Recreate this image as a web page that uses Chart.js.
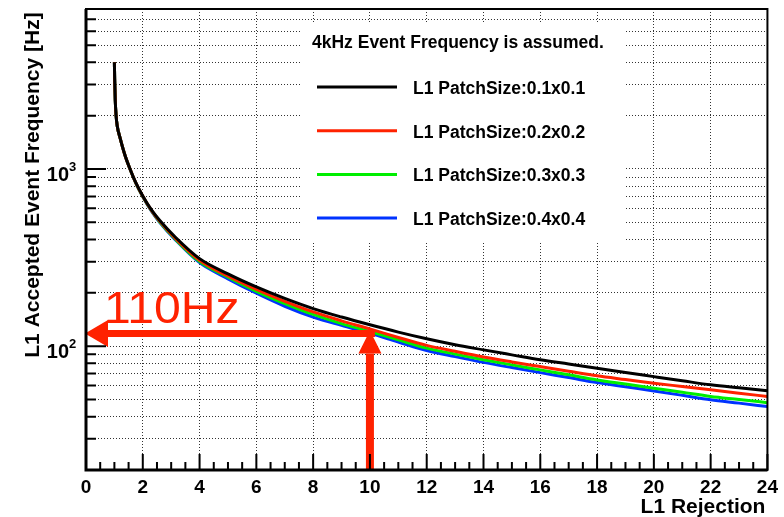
<!DOCTYPE html>
<html>
<head>
<meta charset="utf-8">
<script src="https://cdn.jsdelivr.net/npm/chart.js@4.4.0/dist/chart.umd.min.js"></script>
<style>
  body { margin: 0; background: #fff; }
  #wrap { width: 784px; height: 517px; }
</style>
</head>
<body>
<div id="wrap"><canvas id="rate"></canvas></div>
<script>
// L1 rejection vs accepted event frequency
var rejection = [1, 1.01, 1.03, 1.06, 1.1, 1.2, 1.37, 1.55, 1.75, 2, 2.3, 2.6, 3.15, 4, 5, 6, 7, 8, 9, 10, 11, 12, 13, 14, 15, 16, 17, 18, 19, 20, 21, 22, 23, 24];
var patch01 = [4000, 3200, 2450, 2000, 1750, 1500, 1200, 1000, 840, 705, 590, 512, 412, 312, 256, 216, 186, 163, 146, 132, 120, 110, 101.8, 95.3, 89.3, 83.7, 79.3, 75.1, 71, 67.3, 63.8, 60.5, 58.2, 56.1];
var patch02 = [4000, 3200, 2450, 2000, 1750, 1500, 1200, 1000, 838, 702, 586, 506, 405, 305, 249, 209, 179, 156, 139, 125, 112, 101, 93.5, 86.9, 81.5, 76.7, 72.2, 68, 64.8, 61.8, 59.2, 56.7, 54.3, 52];
var patch03 = [4000, 3200, 2450, 2000, 1750, 1500, 1200, 1000, 836, 700, 583, 502, 401, 300, 245, 204, 174, 151, 134, 121, 108.5, 97.5, 90.2, 83.9, 78.4, 73.5, 68.9, 64.5, 61.1, 57.9, 54.9, 52, 50, 48];
var patch04 = [4000, 3200, 2450, 2000, 1750, 1500, 1200, 1000, 835, 698, 580, 499, 398, 296, 240, 199, 168, 146, 131, 118, 105.5, 94.5, 87.3, 81, 75.7, 70.9, 66.5, 62.3, 59, 55.9, 52.8, 49.8, 47.7, 45.6];

var seriesNames = ["L1 PatchSize:0.1x0.1", "L1 PatchSize:0.2x0.2", "L1 PatchSize:0.3x0.3", "L1 PatchSize:0.4x0.4"];
var seriesColors = ["#000000", "#ff2200", "#00ee00", "#0033ff"];
var legendHeader = "4kHz Event Frequency is assumed.";

var yTicks = [20, 30, 40, 50, 60, 70, 80, 90, 100, 200, 300, 400, 500, 600, 700, 800, 900, 1000, 2000, 3000, 4000, 5000, 6000, 7000, 8000];
var yLabels = [100, 1000];

// the 110Hz mark
var markRejection = 10;
var markRate = 118;
var markText = "110Hz";

var FONT = "'Liberation Sans', Arial, Helvetica, sans-serif";

function pts(vals) {
    return vals.map(function (v, i) { return { x: rejection[i], y: v }; });
}

function drawArrow(ctx, x1, y1, x2, y2, w, hl, hw) {
    var ang = Math.atan2(y2 - y1, x2 - x1);
    var bx = x2 - Math.cos(ang) * hl, by = y2 - Math.sin(ang) * hl;
    ctx.lineWidth = w;
    ctx.beginPath();
    ctx.moveTo(x1, y1);
    ctx.lineTo(bx, by);
    ctx.stroke();
    ctx.beginPath();
    ctx.moveTo(x2, y2);
    ctx.lineTo(bx - Math.sin(ang) * hw / 2, by + Math.cos(ang) * hw / 2);
    ctx.lineTo(bx + Math.sin(ang) * hw / 2, by - Math.cos(ang) * hw / 2);
    ctx.closePath();
    ctx.fill();
}

var rootLook = {
    id: "rootLook",
    beforeDatasetsDraw: function (chart) {
        var ctx = chart.ctx;
        // legend pad covers the grid
        ctx.save();
        ctx.fillStyle = "#fff";
        ctx.fillRect(300, 24, 325, 217);
        ctx.restore();
    },
    afterDatasetsDraw: function (chart) {
        var ctx = chart.ctx, a = chart.chartArea;
        var xs = chart.scales.x, ys = chart.scales.y;
        ctx.save();

        // arrows
        var px = xs.getPixelForValue(markRejection);
        var py = ys.getPixelForValue(markRate);
        var p0 = xs.getPixelForValue(0);
        ctx.strokeStyle = "#ff2200";
        ctx.fillStyle = "#ff2200";
        drawArrow(ctx, px + 5, py, p0 - 1, py, 7, 23, 27);
        drawArrow(ctx, px, a.bottom, px, py - 3, 8, 23, 23);
        ctx.save();
        ctx.font = "45px " + FONT;
        ctx.textAlign = "left";
        ctx.textBaseline = "alphabetic";
        ctx.translate(p0 + 18, py - 10);
        ctx.scale(1.07, 1);
        ctx.fillText(markText, 0, 0);
        ctx.restore();

        // frame
        ctx.strokeStyle = "#000";
        ctx.lineWidth = 2;
        ctx.strokeRect(a.left, a.top, a.right - a.left, a.bottom - a.top);
        ctx.lineWidth = 3;
        ctx.beginPath();
        ctx.moveTo(a.left, a.top);
        ctx.lineTo(a.left, a.bottom);
        ctx.lineTo(a.right, a.bottom);
        ctx.stroke();

        // inner ticks
        ctx.lineWidth = 2;
        ctx.beginPath();
        for (var t = 0; t <= 24; t += 0.5) {
            var tx = xs.getPixelForValue(t);
            var len = (t % 2 === 0) ? 16 : 8;
            ctx.moveTo(tx, a.bottom);
            ctx.lineTo(tx, a.bottom - len);
        }
        yTicks.forEach(function (v) {
            var ty = ys.getPixelForValue(v);
            var len = yLabels.indexOf(v) >= 0 ? 20 : 10;
            ctx.moveTo(a.left, ty);
            ctx.lineTo(a.left + len, ty);
        });
        ctx.stroke();

        // y labels 10^n
        ctx.fillStyle = "#000";
        yLabels.forEach(function (v) {
            var ty = ys.getPixelForValue(v);
            ctx.font = "bold 20px " + FONT;
            ctx.textAlign = "right";
            ctx.textBaseline = "alphabetic";
            ctx.fillText("10", a.left - 17, ty + 12);
            ctx.font = "bold 13px " + FONT;
            ctx.textAlign = "left";
            ctx.fillText(String(Math.round(Math.log10(v))), a.left - 17, ty + 2);
        });

        // axis titles
        ctx.font = "bold 21px " + FONT;
        ctx.textAlign = "right";
        ctx.fillText("L1 Rejection", a.right - 2, 513);
        ctx.save();
        ctx.translate(33, 185);
        ctx.rotate(-Math.PI / 2);
        ctx.textAlign = "center";
        ctx.textBaseline = "middle";
        ctx.fillText("L1 Accepted Event Frequency [Hz]", 0, 0);
        ctx.restore();

        // legend
        ctx.font = "bold 17.5px " + FONT;
        ctx.textAlign = "left";
        ctx.textBaseline = "middle";
        ctx.fillText(legendHeader, 312, 43);
        chart.data.datasets.forEach(function (ds, i) {
            var ly = 87 + i * 43.7;
            ctx.strokeStyle = ds.borderColor;
            ctx.lineWidth = 3;
            ctx.beginPath();
            ctx.moveTo(317, ly);
            ctx.lineTo(397, ly);
            ctx.stroke();
            ctx.fillStyle = "#000";
            ctx.fillText(ds.label, 413, ly + 2);
        });
        ctx.restore();
    }
};

var ctx1 = document.getElementById("rate");
var rateChart = new Chart(ctx1, {
    type: "line",
    data: {
        datasets: [
            { label: seriesNames[0], data: pts(patch01), borderColor: seriesColors[0] },
            { label: seriesNames[1], data: pts(patch02), borderColor: seriesColors[1] },
            { label: seriesNames[2], data: pts(patch03), borderColor: seriesColors[2] },
            { label: seriesNames[3], data: pts(patch04), borderColor: seriesColors[3] }
        ]
    },
    options: {
        responsive: true,
        maintainAspectRatio: false,
        animation: false,
        layout: { padding: { left: 0, top: 9, right: 14, bottom: 0 } },
        elements: {
            point: { radius: 0 },
            line: { borderWidth: 3, cubicInterpolationMode: "monotone", fill: false }
        },
        plugins: { legend: { display: false }, tooltip: { enabled: false } },
        scales: {
            x: {
                type: "linear",
                min: 0,
                max: 24,
                afterFit: function (s) { s.height = 47; },
                ticks: {
                    stepSize: 2,
                    color: "#000",
                    padding: 6,
                    maxRotation: 0,
                    font: { family: FONT, size: 19, weight: "bold" }
                },
                grid: { color: "#333", lineWidth: 1, drawTicks: false },
                border: { display: false, dash: [1, 2] }
            },
            y: {
                type: "logarithmic",
                min: 20,
                max: 8000,
                afterFit: function (s) { s.width = 86; },
                afterBuildTicks: function (s) {
                    s.ticks = yTicks.map(function (v) { return { value: v }; });
                },
                ticks: { display: false },
                grid: { color: "#333", lineWidth: 1, drawTicks: false },
                border: { display: false, dash: [1, 2] }
            }
        }
    },
    plugins: [rootLook]
});
</script>
</body>
</html>
